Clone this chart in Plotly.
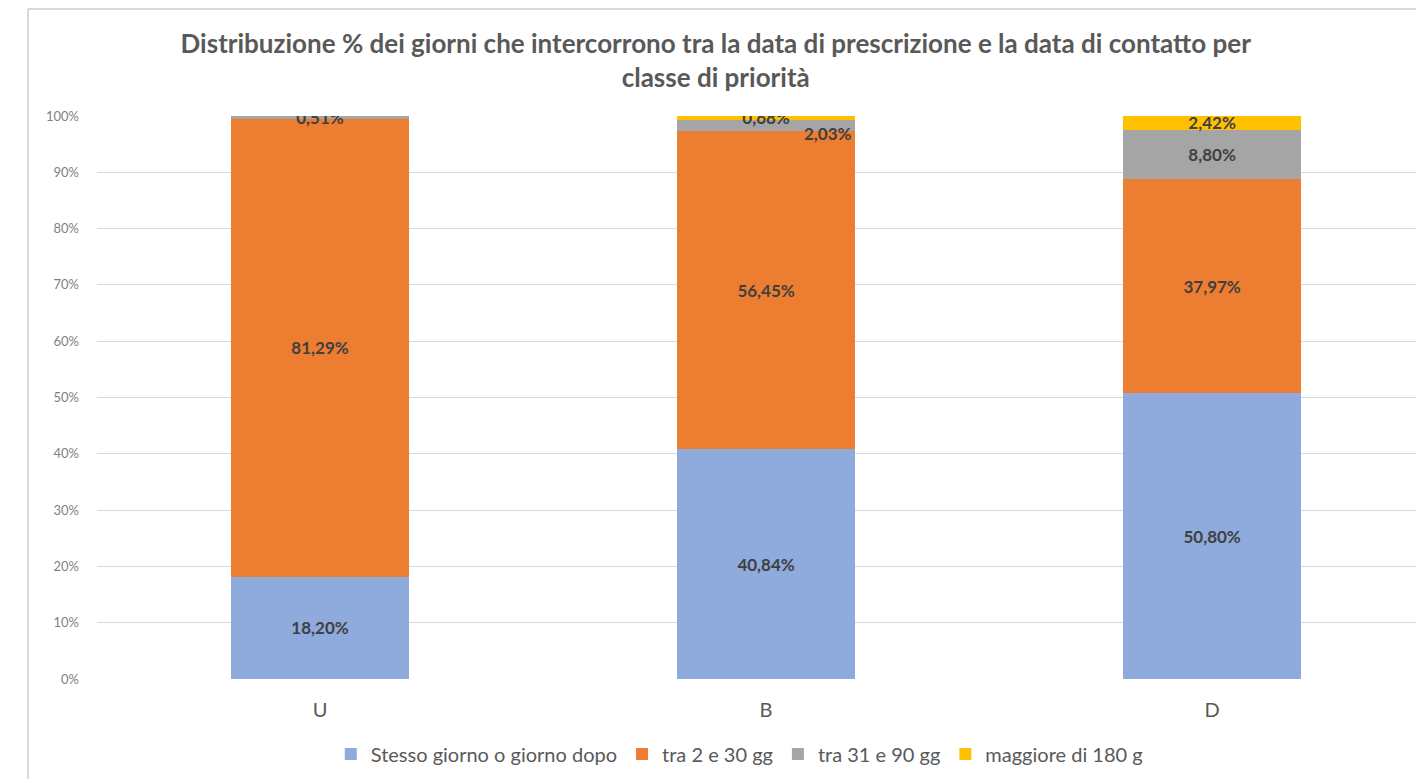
import plotly.graph_objects as go

# Classi di priorità e percentuali per fascia di giorni
classi = ["U", "B", "D"]
stesso_giorno = [18.20, 40.84, 50.80]
tra_2_30 = [81.29, 56.45, 37.97]
tra_31_90 = [0.51, 2.03, 8.80]
oltre_180 = [0.00, 0.68, 2.42]

serie = [
    ("Stesso giorno o giorno dopo", stesso_giorno, "#8FAADC"),
    ("tra 2 e 30 gg", tra_2_30, "#ED7D31"),
    ("tra 31 e 90 gg", tra_31_90, "#A5A5A5"),
    ("maggiore di 180 g", oltre_180, "#FFC000"),
]

def etichetta(v):
    return ("%.2f%%" % v).replace(".", ",")

font_lbl = dict(family="Lato", size=17, color="#404040", weight="bold")

fig = go.Figure()
for nome, valori, colore in serie:
    testi = []
    for i, v in enumerate(valori):
        # niente etichetta per lo zero, e 2,03% di B va spostata a destra
        if v == 0 or (nome == "tra 31 e 90 gg" and classi[i] == "B"):
            testi.append("")
        else:
            testi.append(etichetta(v))
    fig.add_trace(go.Bar(
        name=nome, x=classi, y=valori, marker_color=colore,
        marker_line_width=0, width=0.4,
        text=testi, textposition="inside", insidetextanchor="middle",
        textangle=0, textfont=font_lbl,
    ))

# etichetta spostata per il segmento grigio di B
base_b = stesso_giorno[1] + tra_2_30[1]
fig.add_annotation(
    x="B", y=base_b + tra_31_90[1] / 2, text=etichetta(tra_31_90[1]),
    showarrow=False, xshift=62, yshift=-8, font=font_lbl,
)

# cornice dell'area grafico (tagliata a destra e in basso)
bordo = dict(color="#D9D9D9", width=2)
fig.add_shape(type="line", xref="paper", yref="paper",
              x0=-0.052, x1=-0.052, y0=-0.3, y1=1.19, line=bordo)
fig.add_shape(type="line", xref="paper", yref="paper",
              x0=-0.052, x1=1.2, y0=1.19, y1=1.19, line=bordo)

fig.update_layout(
    barmode="stack",
    width=1424, height=779,
    margin=dict(l=89, r=8, t=108, b=108),
    paper_bgcolor="white", plot_bgcolor="white",
    font=dict(family="Lato", color="#595959"),
    uniformtext=dict(minsize=17, mode="show"),
    title=dict(
        text="Distribuzione % dei giorni che intercorrono tra la data di prescrizione e la data di contatto per<br>classe di priorità",
        xref="container", x=0.497, xanchor="center",
        yref="container", y=0.942, yanchor="top",
        font=dict(family="Lato", size=26, color="#595959", weight="bold"),
    ),
    legend=dict(
        orientation="h", xanchor="center", x=0.484,
        yanchor="middle", y=-0.133,
        font=dict(family="Lato", size=20, color="#595959"),
        traceorder="normal",
    ),
    xaxis=dict(
        range=[-0.5, 2.475], showgrid=False, showline=False,
        tickfont=dict(size=20, color="#595959"), ticks="",
        ticklabelstandoff=17,
    ),
    yaxis=dict(
        range=[0, 100], dtick=10, ticksuffix="%",
        gridcolor="#D9D9D9", gridwidth=1, zeroline=False,
        tickfont=dict(size=13, color="#7F7F7F"), ticks="",
        ticklabelstandoff=17,
    ),
)

fig.write_html("out.html")
